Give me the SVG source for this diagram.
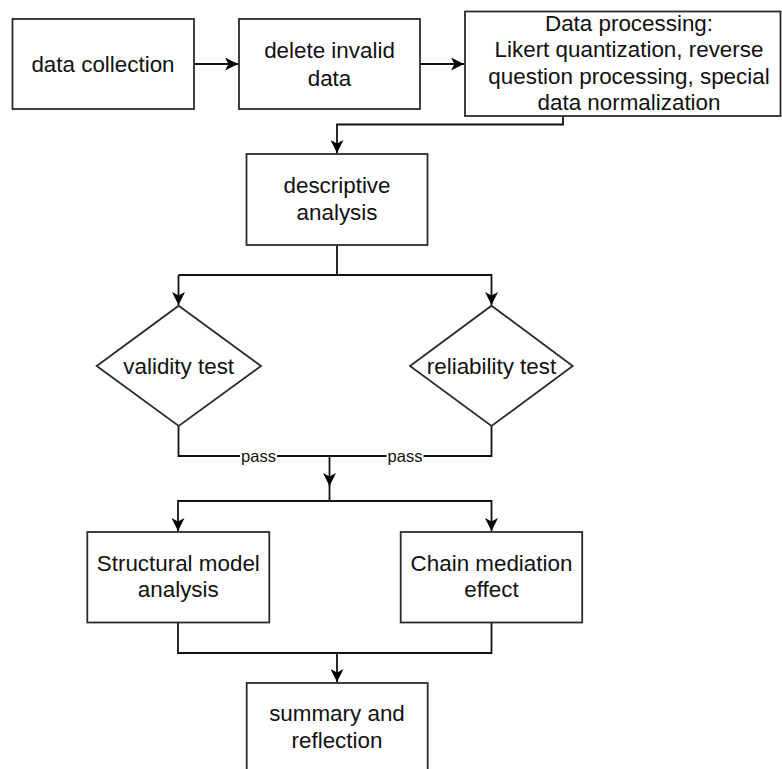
<svg xmlns="http://www.w3.org/2000/svg" width="782" height="769" viewBox="0 0 782 769">
<style>
.box{fill:#fff;stroke:#2b2b2b;stroke-width:1.8}
.t{font-family:"Liberation Sans",Arial,sans-serif;font-size:22.4px;fill:#111;text-anchor:middle}
.lbl{font-family:"Liberation Sans",Arial,sans-serif;font-size:16.5px;fill:#111;text-anchor:middle}
.c{fill:none;stroke:#111;stroke-width:1.8}
.a{marker-end:url(#ah)}
</style>
<defs>
<marker id="ah" markerUnits="userSpaceOnUse" markerWidth="14" markerHeight="13" refX="13" refY="6.5" orient="auto">
<path d="M0,0 L13,6.5 L0,13 L3.5,6.5 Z" fill="#000"/>
</marker>
</defs>
<rect width="782" height="769" fill="#fff"/>
<g id="connectors">
<path class="c a" d="M194,64 H238"/>
<path class="c a" d="M420,64 H464"/>
<path class="c a" d="M563,116 V124.5 H337 V153"/>
<path class="c" d="M337,245 V275 H178.5"/>
<path class="c a" d="M178.5,275 V305"/>
<path class="c a" d="M337,275 H491.5 V305"/>
<path class="c" d="M178.5,426 V456 H491.5 V426"/>
<path class="c a" d="M329.5,456 V486"/>
<path class="c" d="M329.5,485 V501"/>
<path class="c a" d="M329.5,501 H178 V531"/>
<path class="c a" d="M329.5,501 H491.5 V531"/>
<path class="c" d="M178,622.5 V653 H491.5 V622.5"/>
<path class="c a" d="M337,653 V682"/>
<rect x="240" y="447" width="37" height="18" fill="#fff"/>
<text class="lbl" x="258.5" y="462">pass</text>
<rect x="386.5" y="447" width="37" height="18" fill="#fff"/>
<text class="lbl" x="405" y="462">pass</text>
</g>
<g id="data-collection">
<rect class="box" x="12.5" y="19" width="181.5" height="90"/>
<text class="t" x="103" y="71.5">data collection</text>
</g>
<g id="delete-invalid">
<rect class="box" x="239" y="19" width="181" height="90"/>
<text class="t" x="329.5" y="58">delete invalid</text>
<text class="t" x="329.5" y="85.5">data</text>
</g>
<g id="data-processing">
<rect class="box" x="465" y="11.5" width="315.5" height="104.5"/>
<text class="t" x="629" y="30.5">Data processing:</text>
<text class="t" x="629" y="57">Likert quantization, reverse</text>
<text class="t" x="629" y="83.5">question processing, special</text>
<text class="t" x="629" y="110">data normalization</text>
</g>
<g id="descriptive">
<rect class="box" x="246.5" y="154" width="181" height="91"/>
<text class="t" x="337" y="193">descriptive</text>
<text class="t" x="337" y="220">analysis</text>
</g>
<g id="validity">
<path class="box" d="M178.7,305.7 L261,366 L178.7,426 L96.7,366 Z"/>
<text class="t" x="178.7" y="373.5">validity test</text>
</g>
<g id="reliability">
<path class="box" d="M491.5,305.7 L572.7,366 L491.5,426 L410,366 Z"/>
<text class="t" x="491.5" y="373.5">reliability test</text>
</g>
<g id="structural">
<rect class="box" x="87.3" y="532" width="182" height="90.5"/>
<text class="t" x="178.3" y="570.5">Structural model</text>
<text class="t" x="178.3" y="597">analysis</text>
</g>
<g id="chain">
<rect class="box" x="400.7" y="532" width="181.5" height="90.5"/>
<text class="t" x="491.5" y="570.5">Chain mediation</text>
<text class="t" x="491.5" y="597">effect</text>
</g>
<g id="summary">
<rect class="box" x="246.7" y="683" width="181" height="95"/>
<text class="t" x="337" y="721">summary and</text>
<text class="t" x="337" y="748.3">reflection</text>
</g>
</svg>
